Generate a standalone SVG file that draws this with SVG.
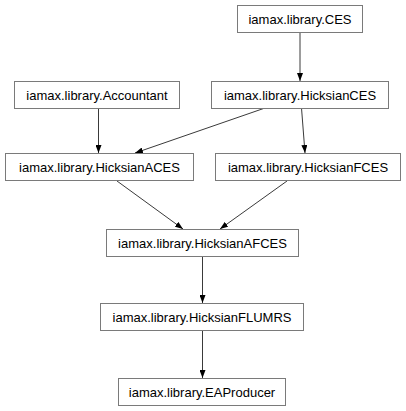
<svg xmlns="http://www.w3.org/2000/svg" width="406" height="411" viewBox="0 0 406 411">
<defs>
<style>
.box{fill:#fff;stroke:#7a7a7a;stroke-width:1}
.lbl{font-family:"Liberation Sans",Arial,sans-serif;font-size:13px;fill:#000;text-anchor:middle}
.edge{stroke:#3a3a3a;stroke-width:1;fill:none;marker-end:url(#arr)}
</style>
<marker id="arr" viewBox="0 0 8 6" refX="8" refY="3" markerWidth="8" markerHeight="6" orient="auto" markerUnits="userSpaceOnUse">
<path d="M0,0 L8,3 L0,6 Z" fill="#000"/>
</marker>
</defs>
<rect width="406" height="411" fill="#fff"/>
<g id="connectors">
<line class="edge" x1="300" y1="32" x2="300" y2="81"/>
<line class="edge" x1="98.5" y1="108" x2="98.5" y2="153"/>
<line class="edge" x1="265" y1="108" x2="135" y2="153"/>
<line class="edge" x1="301.5" y1="108" x2="305" y2="153"/>
<line class="edge" x1="117" y1="181" x2="183" y2="229"/>
<line class="edge" x1="287" y1="181" x2="220" y2="229"/>
<line class="edge" x1="202.5" y1="256" x2="202.5" y2="303"/>
<line class="edge" x1="202.5" y1="330" x2="202.5" y2="378"/>
</g>
<g id="n_ces"><rect class="box" x="237.5" y="5.5" width="125" height="27"/><text class="lbl" x="300" y="23.5">iamax.library.CES</text></g>
<g id="n_accountant"><rect class="box" x="14.5" y="81.5" width="165" height="27"/><text class="lbl" x="97" y="99.5">iamax.library.Accountant</text></g>
<g id="n_hicksianCES"><rect class="box" x="211.5" y="81.5" width="177" height="27"/><text class="lbl" x="300" y="99.5">iamax.library.HicksianCES</text></g>
<g id="n_hicksianACES"><rect class="box" x="5.5" y="153.5" width="188" height="27"/><text class="lbl" x="99.5" y="171.5">iamax.library.HicksianACES</text></g>
<g id="n_hicksianFCES"><rect class="box" x="215.5" y="153.5" width="185" height="27"/><text class="lbl" x="308" y="171.5">iamax.library.HicksianFCES</text></g>
<g id="n_hicksianAFCES"><rect class="box" x="106.5" y="229.5" width="192" height="27"/><text class="lbl" x="202.5" y="247.5">iamax.library.HicksianAFCES</text></g>
<g id="n_hicksianFLUMRS"><rect class="box" x="100.5" y="303.5" width="203" height="27"/><text class="lbl" x="202" y="321.5">iamax.library.HicksianFLUMRS</text></g>
<g id="n_eaproducer"><rect class="box" x="118.5" y="378.5" width="167" height="27"/><text class="lbl" x="202" y="396.5">iamax.library.EAProducer</text></g>
</svg>
